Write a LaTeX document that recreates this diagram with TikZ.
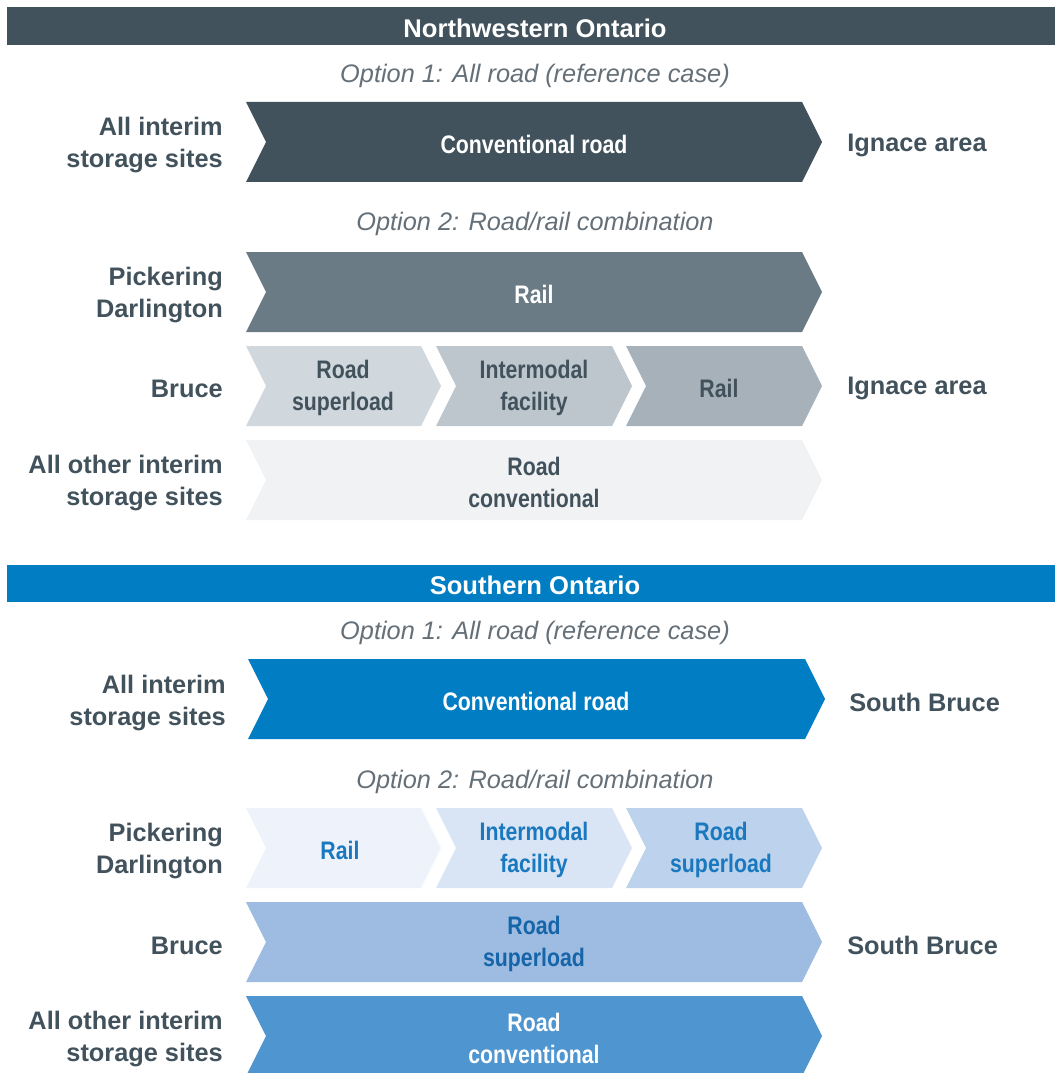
\documentclass[tikz,border=0pt]{standalone}
\usepackage{fontspec}
\setmainfont{Liberation Sans}
\newfontfamily\condfont[FakeStretch=0.84]{Liberation Sans}
\definecolor{nwdark}{HTML}{42525C}
\definecolor{nwrail}{HTML}{6B7B85}
\definecolor{nwsup}{HTML}{D0D7DD}
\definecolor{nwint}{HTML}{BCC6CC}
\definecolor{nwrail2}{HTML}{A6B1B9}
\definecolor{nwconv}{HTML}{F1F2F4}
\definecolor{optgray}{HTML}{646F77}
\definecolor{soblue}{HTML}{007DC3}
\definecolor{sorail}{HTML}{EEF3FB}
\definecolor{soint}{HTML}{D9E4F4}
\definecolor{sosup}{HTML}{BDD2EC}
\definecolor{sobruce}{HTML}{9EBCE2}
\definecolor{soconv}{HTML}{4F95D0}
\definecolor{sotext}{HTML}{1A78BE}
\definecolor{sotextdk}{HTML}{1565A8}
\newcommand\chevshape[5]{\fill[#5] (#1,#3) -- ({#2-20},#3) -- (#2,{(#3+#4)/2}) -- ({#2-20},#4) -- (#1,#4) -- ({#1+20},{(#3+#4)/2}) -- cycle;}
\begin{document}
\begin{tikzpicture}[x=0.75pt,y=-0.75pt,
  header/.style={inner sep=0pt, yshift=-1.5pt, text=white, font=\fontsize{19.2}{23}\selectfont\bfseries},
  opttext/.style={inner sep=0pt, yshift=-1.5pt, text=optgray, font=\fontsize{19}{23}\selectfont\itshape},
  sidelabel/.style={inner sep=0pt, yshift=-2pt, align=right, text=nwdark, font=\fontsize{19}{24}\selectfont\bfseries},
  destlabel/.style={inner sep=0pt, yshift=-2pt, text=nwdark, font=\fontsize{19}{24}\selectfont\bfseries},
  ctext/.style={inner sep=0pt, yshift=-1.8pt, align=center, font=\fontsize{19}{24}\selectfont\condfont\bfseries}]
\useasboundingbox (0,0) rectangle (1055,1073);
% ---------- Northwestern Ontario ----------
\fill[nwdark] (7,7) rectangle (1055,45);
\node[header] (h1) at (535,26) {Northwestern Ontario};
\node[opttext] (o11) at (535,74) {Option 1: All road (reference case)};
\chevshape{246}{822}{102}{182}{nwdark}
\node[ctext,text=white] (c11) at (534,142) {Conventional road};
\node[sidelabel,anchor=east] (l11) at (223,142) {All interim\\storage sites};
\node[destlabel,anchor=west] (d11) at (847,143) {Ignace area};
\node[opttext] (o12) at (535,222) {Option 2: Road/rail combination};
\chevshape{246}{822}{252}{332}{nwrail}
\node[ctext,text=white] (c12) at (534,292) {Rail};
\node[sidelabel,anchor=east] (l12) at (223,292) {Pickering\\Darlington};
\chevshape{246}{441}{346}{426}{nwsup}
\chevshape{436}{632}{346}{426}{nwint}
\chevshape{626}{822}{346}{426}{nwrail2}
\node[ctext,text=nwdark] (c13a) at (343,386) {Road\\superload};
\node[ctext,text=nwdark] (c13b) at (534,386) {Intermodal\\facility};
\node[ctext,text=nwdark] (c13c) at (719,386) {Rail};
\node[sidelabel,anchor=east] (l13) at (223,386) {Bruce};
\node[destlabel,anchor=west] (d13) at (847,386) {Ignace area};
\chevshape{246}{822}{440}{520}{nwconv}
\node[ctext,text=nwdark] (c14) at (534,480) {Road\\conventional};
\node[sidelabel,anchor=east] (l14) at (223,480) {All other interim\\storage sites};
% ---------- Southern Ontario ----------
\fill[soblue] (7,565) rectangle (1055,602);
\node[header] (h2) at (535,583) {Southern Ontario};
\node[opttext] (o21) at (535,631) {Option 1: All road (reference case)};
\chevshape{248}{825}{659}{739}{soblue}
\node[ctext,text=white] (c21) at (536,699) {Conventional road};
\node[sidelabel,anchor=east] (l21) at (226,700) {All interim\\storage sites};
\node[destlabel,anchor=west] (d21) at (849,700) {South Bruce};
\node[opttext] (o22) at (535,780) {Option 2: Road/rail combination};
\chevshape{246}{441}{808}{888}{sorail}
\chevshape{436}{632}{808}{888}{soint}
\chevshape{626}{822}{808}{888}{sosup}
\node[ctext,text=sotext] (c22a) at (340,848) {Rail};
\node[ctext,text=sotext] (c22b) at (534,848) {Intermodal\\facility};
\node[ctext,text=sotext] (c22c) at (721,848) {Road\\superload};
\node[sidelabel,anchor=east] (l22) at (223,848) {Pickering\\Darlington};
\chevshape{246}{822}{902}{982}{sobruce}
\node[ctext,text=sotextdk] (c23) at (534,942) {Road\\superload};
\node[sidelabel,anchor=east] (l23) at (223,943) {Bruce};
\node[destlabel,anchor=west] (d23) at (847,943) {South Bruce};
\chevshape{246}{822}{996}{1076}{soconv}
\node[ctext,text=white] (c24) at (534,1036) {Road\\conventional};
\node[sidelabel,anchor=east] (l24) at (223,1036) {All other interim\\storage sites};
\end{tikzpicture}
\end{document}
